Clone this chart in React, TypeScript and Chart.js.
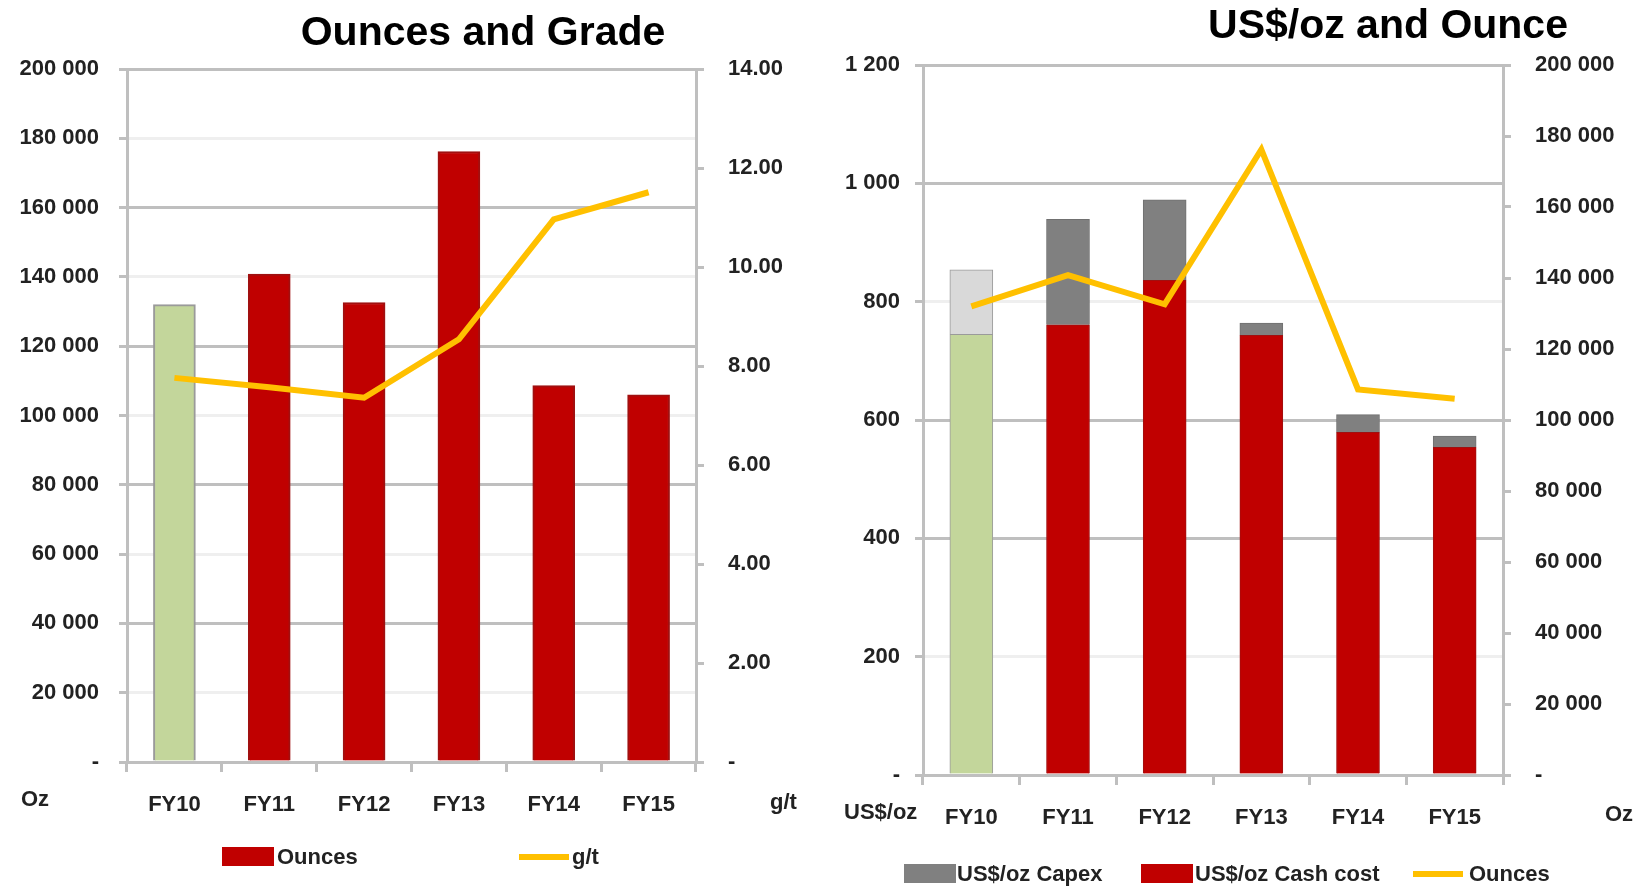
import React, { useEffect, useRef } from "react";
import { Chart, registerables } from "chart.js";

Chart.register(...registerables);

// ---- data ----
const categories = ["FY10", "FY11", "FY12", "FY13", "FY14", "FY15"];
const ounces = [132000, 140800, 132600, 176200, 108600, 106000];
const gradeGt = [7.76, 7.57, 7.36, 8.54, 10.96, 11.51];
const cashCost = [745, 761, 836, 743, 579, 554];
const capex = [109, 178, 136, 21, 30, 19];

const leftTitle = "Ounces and Grade";
const rightTitle = "US$/oz and Ounce";

// ---- style ----
const FONT = '"Liberation Sans", Arial, sans-serif';
const TEXT = "#222222";
const RED = "#C00000";
const GREEN = "#C3D69B";
const GRAY = "#808080";
const LIGHTGRAY = "#D9D9D9";
const YELLOW = "#FFC000";
const GRID = "#BFBFBF";
const FAINT = "rgba(191,191,191,0.25)";

const tickFont = { family: FONT, size: 22, weight: "bold" as const };

function fmtThousands(v: number): string {
  if (v === 0) return "-";
  return String(Math.round(v)).replace(/\B(?=(\d{3})+(?!\d))/g, " ");
}

function leftConfig(): any {
  return {
    type: "bar",
    data: {
      labels: categories,
      datasets: [
        {
          type: "line",
          label: "g/t",
          data: gradeGt,
          borderColor: YELLOW,
          backgroundColor: YELLOW,
          borderWidth: 6,
          pointRadius: 0,
          tension: 0,
          yAxisID: "y1",
          order: 0,
        },
        {
          type: "bar",
          label: "Ounces",
          data: ounces,
          backgroundColor: categories.map((_, i) => (i === 0 ? GREEN : RED)),
          borderColor: categories.map((_, i) => (i === 0 ? "#9a9a9a" : "#a01010")),
          borderWidth: 2,
          barThickness: 42,
          yAxisID: "y",
          order: 1,
        },
      ],
    },
    options: {
      responsive: false,
      maintainAspectRatio: false,
      animation: false,
      layout: { padding: { top: 69, left: 0, right: 0, bottom: 66 } },
      plugins: { legend: { display: false }, tooltip: { enabled: false }, title: { display: false } },
      scales: {
        x: {
          grid: { drawOnChartArea: false, drawTicks: true, tickLength: 10, color: GRID, lineWidth: 3, offset: true },
          border: { display: true, color: GRID, width: 3 },
          ticks: { font: tickFont, color: TEXT, padding: 20 },
          afterFit: (s: any) => { s.height = 60; },
        },
        y: {
          position: "left",
          min: 0,
          max: 200000,
          ticks: { stepSize: 20000, callback: (v: any) => fmtThousands(Number(v)), font: tickFont, color: TEXT, padding: 20 },
          grid: {
            color: (ctx: any) => (ctx.tick && ctx.tick.value % 40000 === 0 ? GRID : FAINT),
            tickColor: GRID,
            lineWidth: 3,
            tickLength: 8,
          },
          border: { color: GRID, width: 3 },
          afterFit: (s: any) => { s.width = 127; },
        },
        y1: {
          position: "right",
          min: 0,
          max: 14,
          ticks: { stepSize: 2, callback: (v: any) => (Number(v) === 0 ? "-" : Number(v).toFixed(2)), font: tickFont, color: TEXT, padding: 24 },
          grid: { drawOnChartArea: false, color: GRID, lineWidth: 3, tickLength: 8 },
          border: { color: GRID, width: 3 },
          afterFit: (s: any) => { s.width = 122; },
        },
      },
    },
  };
}

function rightConfig(): any {
  return {
    type: "bar",
    data: {
      labels: categories,
      datasets: [
        {
          type: "line",
          label: "Ounces",
          data: ounces,
          borderColor: YELLOW,
          backgroundColor: YELLOW,
          borderWidth: 6,
          pointRadius: 0,
          tension: 0,
          yAxisID: "y1",
          order: 0,
        },
        {
          type: "bar",
          label: "US$/oz Cash cost",
          data: cashCost,
          backgroundColor: categories.map((_, i) => (i === 0 ? GREEN : RED)),
          borderColor: categories.map((_, i) => (i === 0 ? "#9a9a9a" : "#a01010")),
          borderWidth: 1,
          barThickness: 43,
          stack: "cost",
          yAxisID: "y",
          order: 1,
        },
        {
          type: "bar",
          label: "US$/oz Capex",
          data: capex,
          backgroundColor: categories.map((_, i) => (i === 0 ? LIGHTGRAY : GRAY)),
          borderColor: categories.map((_, i) => (i === 0 ? "#9a9a9a" : "#707070")),
          borderWidth: 1,
          barThickness: 43,
          stack: "cost",
          yAxisID: "y",
          order: 2,
        },
      ],
    },
    options: {
      responsive: false,
      maintainAspectRatio: false,
      animation: false,
      layout: { padding: { top: 65, left: 0, right: 0, bottom: 53 } },
      plugins: { legend: { display: false }, tooltip: { enabled: false }, title: { display: false } },
      scales: {
        x: {
          stacked: true,
          grid: { drawOnChartArea: false, drawTicks: true, tickLength: 10, color: GRID, lineWidth: 3, offset: true },
          border: { display: true, color: GRID, width: 3 },
          ticks: { font: tickFont, color: TEXT, padding: 20 },
          afterFit: (s: any) => { s.height = 60; },
        },
        y: {
          position: "left",
          stacked: true,
          min: 0,
          max: 1200,
          ticks: { stepSize: 200, callback: (v: any) => fmtThousands(Number(v)), font: tickFont, color: TEXT, padding: 15 },
          grid: {
            color: (ctx: any) => (ctx.tick && (ctx.tick.value === 800 || ctx.tick.value === 200) ? FAINT : GRID),
            tickColor: GRID,
            lineWidth: 3,
            tickLength: 8,
          },
          border: { color: GRID, width: 3 },
          afterFit: (s: any) => { s.width = 105; },
        },
        y1: {
          position: "right",
          min: 0,
          max: 200000,
          ticks: { stepSize: 20000, callback: (v: any) => fmtThousands(Number(v)), font: tickFont, color: TEXT, padding: 24 },
          grid: { drawOnChartArea: false, color: GRID, lineWidth: 3, tickLength: 8 },
          border: { color: GRID, width: 3 },
          afterFit: (s: any) => { s.width = 134; },
        },
      },
    },
  };
}

const abs = (left: number, top: number, extra: React.CSSProperties = {}): React.CSSProperties => ({
  position: "absolute",
  left,
  top,
  whiteSpace: "nowrap",
  lineHeight: 1,
  ...extra,
});

function Swatch({ left, top, color, line }: { left: number; top: number; color: string; line?: boolean }) {
  return line ? (
    <div style={abs(left, top - 3, { width: 50, height: 6, background: color })} />
  ) : (
    <div style={abs(left, top - 10, { width: 52, height: 19, background: color })} />
  );
}

export default function App() {
  const leftRef = useRef<HTMLCanvasElement>(null);
  const rightRef = useRef<HTMLCanvasElement>(null);

  useEffect(() => {
    const c1 = new Chart(leftRef.current as HTMLCanvasElement, leftConfig());
    const c2 = new Chart(rightRef.current as HTMLCanvasElement, rightConfig());
    return () => {
      c1.destroy();
      c2.destroy();
    };
  }, []);

  const label: React.CSSProperties = { fontSize: 22, transform: "translateY(-50%)" };

  return (
    <div
      style={{
        position: "absolute",
        left: 0,
        top: 0,
        width: 1637,
        height: 888,
        background: "#ffffff",
        fontFamily: FONT,
        fontWeight: "bold",
        color: TEXT,
        overflow: "hidden",
      }}
    >
      <canvas ref={leftRef} width={818} height={888} style={{ position: "absolute", left: 0, top: 0, width: 818, height: 888 }} />
      <canvas ref={rightRef} width={819} height={888} style={{ position: "absolute", left: 818, top: 0, width: 819, height: 888 }} />

      <div style={abs(483, 31, { fontSize: 41, color: "#000", transform: "translate(-50%,-50%)" })}>{leftTitle}</div>
      <div style={abs(1388, 24, { fontSize: 41, color: "#000", transform: "translate(-50%,-50%)" })}>{rightTitle}</div>

      <div style={abs(21, 799, label)}>Oz</div>
      <div style={abs(770, 802, label)}>g/t</div>
      <div style={abs(844, 812, label)}>US$/oz</div>
      <div style={abs(1605, 814, label)}>Oz</div>

      <Swatch left={222} top={857} color={RED} />
      <div style={abs(277, 857, label)}>Ounces</div>
      <Swatch left={519} top={857} color={YELLOW} line />
      <div style={abs(572, 857, label)}>g/t</div>

      <Swatch left={904} top={874} color={GRAY} />
      <div style={abs(957, 874, label)}>US$/oz Capex</div>
      <Swatch left={1141} top={874} color={RED} />
      <div style={abs(1195, 874, label)}>US$/oz Cash cost</div>
      <Swatch left={1413} top={874} color={YELLOW} line />
      <div style={abs(1469, 874, label)}>Ounces</div>
    </div>
  );
}
